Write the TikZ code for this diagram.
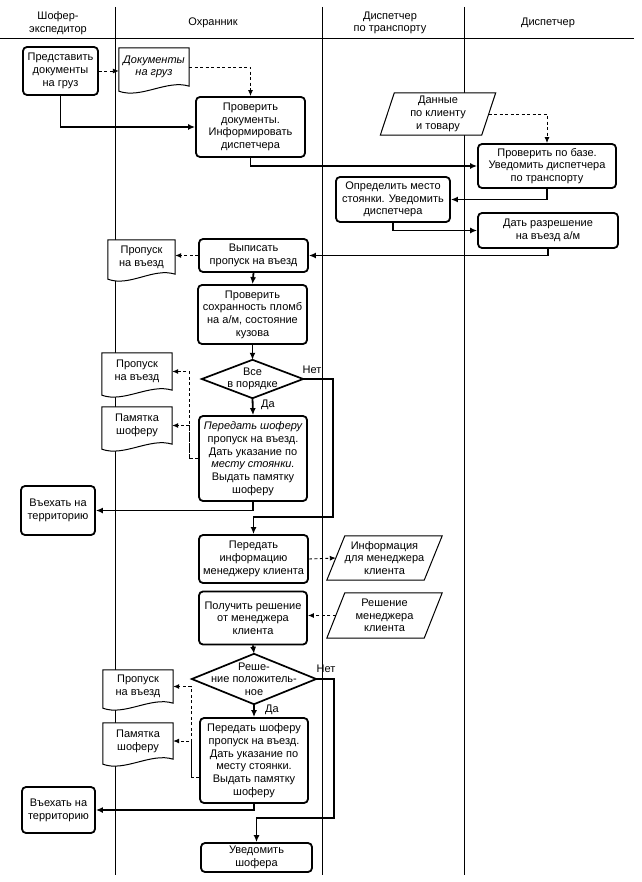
\documentclass[tikz,border=0pt]{standalone}
\usepackage{fontspec}
\setmainfont{Liberation Sans}
\usetikzlibrary{arrows.meta,calc}
\newcommand\docshape[1]{\draw[thinline, fill=white] (#1.north west) -- (#1.north east) -- (#1.south east) .. controls +(-22,-7) and +(22,8) .. ([yshift=-5pt]#1.south west) -- cycle;}
\newcommand\parashape[2]{\draw[thinline, fill=white] ([xshift=#2pt]#1.north west) -- ([xshift=#2pt]#1.north east) -- ([xshift=-#2pt]#1.south east) -- ([xshift=-#2pt]#1.south west) -- cycle;}
\newcommand\diashape[1]{\draw[line width=1.7pt, line join=miter, fill=white] (#1.north) -- (#1.east) -- (#1.south) -- (#1.west) -- cycle;}
\begin{document}
\begin{tikzpicture}[x=1pt,y=-1pt,
  font=\fontsize{11}{12.7}\selectfont,
  thinline/.style={line width=1pt},
  box/.style n args={2}{draw, fill=white, line width=1.8pt, rounded corners=4pt, align=center, inner sep=0.5pt, minimum width=#1pt, minimum height=#2pt},
  plain/.style n args={2}{align=center, inner sep=0pt, minimum width=#1pt, minimum height=#2pt},
  hdr/.style={align=center, inner sep=0pt},
  lbl/.style={inner sep=0pt},
  lane/.style={line width=1pt},
  flow/.style={line width=1.8pt, -{Latex[length=7pt,width=6pt]}},
  dflow/.style={line width=0.9pt, dash pattern=on 3pt off 2.5pt, -{Latex[length=6pt,width=5pt]}}
]
\useasboundingbox (0,0) rectangle (641,882);
% lanes
\draw[lane] (0,39) -- (634,39);
\draw[lane] (115,7) -- (115,875);
\draw[lane] (322,7) -- (322,875);
\draw[lane] (464,7) -- (464,875);
% headers
\node[hdr] (h1) at (58,23) {Шофер-\\экспедитор};
\node[hdr] (h2) at (213,23) {Охранник};
\node[hdr] (h3) at (390,23) {Диспетчер\\по транспорту};
\node[hdr] (h4) at (548,23) {Диспетчер};
% document and data shapes (drawn first so connectors sit on top)
\node[plain={70}{38}] (D1) at (154,67) {};
\docshape{D1}
\node[plain={101}{42}] (data) at (438,114) {};
\parashape{data}{7}
\node[plain={67}{34}] (P1) at (141.5,257) {};
\docshape{P1}
\node[plain={70}{37}] (P2) at (137,371.5) {};
\docshape{P2}
\node[plain={70}{37}] (M1) at (137,425.5) {};
\docshape{M1}
\node[plain={97}{44}] (info) at (384.5,558) {};
\parashape{info}{9}
\node[plain={97}{45}] (resh) at (384.5,615.5) {};
\parashape{resh}{9}
\node[plain={70}{33}] (P3) at (138,686.5) {};
\docshape{P3}
\node[plain={70}{36}] (M2) at (138,741) {};
\docshape{M2}
\node[plain={101}{38}] (d1) at (252.5,379) {};
\diashape{d1}
\node[plain={124}{50}] (d2) at (254,679) {};
\diashape{d2}
% texts of those shapes
\node[hdr] at (D1) {\itshape Документы\\\itshape на груз};
\node[hdr] at (data) {Данные\\по клиенту\\и товару};
\node[hdr] at (P1) {Пропуск\\на въезд};
\node[hdr] at (P2) {Пропуск\\на въезд};
\node[hdr] at (M1) {Памятка\\шоферу};
\node[hdr] at (info) {Информация\\для менеджера\\клиента};
\node[hdr] at (resh) {Решение\\менеджера\\клиента};
\node[hdr] at (P3) {Пропуск\\на въезд};
\node[hdr] at (M2) {Памятка\\шоферу};
\node[hdr] at (d1) {Все\\в порядке};
\node[hdr] at (d2) {Реше-\\ние положитель-\\ное};
% boxes
\node[box={75}{48}] (A) at (60.5,71) {Представить\\документы\\на груз};
\node[box={109}{60}] (B) at (250.5,127) {Проверить\\документы.\\Информировать\\диспетчера};
\node[box={138}{44}] (C) at (547,166) {Проверить по базе.\\Уведомить диспетчера\\по транспорту};
\node[box={114}{45}] (D) at (393,199.5) {Определить место\\стоянки. Уведомить\\диспетчера};
\node[box={140}{35}] (E) at (548,230.5) {Дать разрешение\\на въезд а/м};
\node[box={109}{33}] (F) at (253.5,255.5) {Выписать\\пропуск на въезд};
\node[box={109}{59}] (G) at (252.5,314.5) {Проверить\\сохранность пломб\\на а/м, состояние\\кузова};
\node[box={108}{85}] (I) at (253,458.5) {{\itshape Передать шоферу}\\пропуск на въезд.\\Дать указание по\\{\itshape месту стоянки.}\\Выдать памятку\\шоферу};
\node[box={74}{49}] (J) at (58,510.5) {Въехать на\\территорию};
\node[box={109}{48}] (H) at (253.5,559) {Передать\\информацию\\менеджеру клиента};
\node[box={108}{53}] (K) at (253,618) {Получить решение\\от менеджера\\клиента};
\node[box={108}{85}] (I2) at (254,760.5) {Передать шоферу\\пропуск на въезд.\\Дать указание по\\месту стоянки.\\Выдать памятку\\шоферу};
\node[box={73}{46}] (J2) at (58.5,810) {Въехать на\\территорию};
\node[box={111}{29}] (L) at (256.5,857.5) {Уведомить\\шофера};
% labels
\node[lbl] (n1) at (312,370) {Нет};
\node[lbl] (y1) at (268,405) {Да};
\node[lbl] (n2) at (326,669) {Нет};
\node[lbl] (y2) at (272,710) {Да};
% connectors
\draw[dflow] (A.east) -- (A.east -| D1.west);
\draw[dflow] (D1.east) -| (B.north);
\draw[flow] (A.south) |- (B.west);
\draw[flow] (B.south) |- (C.west);
\draw[dflow] (data.east) -| (C.north);
\draw[flow] (C.south) |- (D.east);
\draw[flow] (D.south) |- (E.west);
\draw[flow] (E.south) |- (F.east);
\draw[dflow] (F.west) -- (F.west -| P1.east);
\draw[flow] (F.south) -- (G.north);
\draw[flow] (G.south) -- (d1.north);
\draw[flow] (d1.east) -- ++(30,0) |- ([yshift=17pt]H.north) -- (H.north);
\draw[flow] (d1.south) -- (I.north);
\draw[dflow] (I.west) -- ++(-9,0) coordinate (ib) |- (P2.east);
\draw[dflow] (ib) |- (M1.east);
\draw[flow] (I.south) |- (J.east);
\draw[dflow] (H.east) -- (info.west);
\draw[dflow] (resh.west) -- (resh.west -| K.east);
\draw[flow] (K.south) -- (d2.north);
\draw[flow] (d2.east) -- ++(18,0) |- ([yshift=24pt]L.north) -- (L.north);
\draw[flow] (d2.south) -- (I2.north);
\draw[dflow] ([yshift=-17pt]I2.west) -- ++(-8,0) coordinate (ib2) |- (P3.east);
\draw[dflow] (ib2) |- (M2.east);
\draw[flow] (I2.south) |- (J2.east);
\end{tikzpicture}
\end{document}
